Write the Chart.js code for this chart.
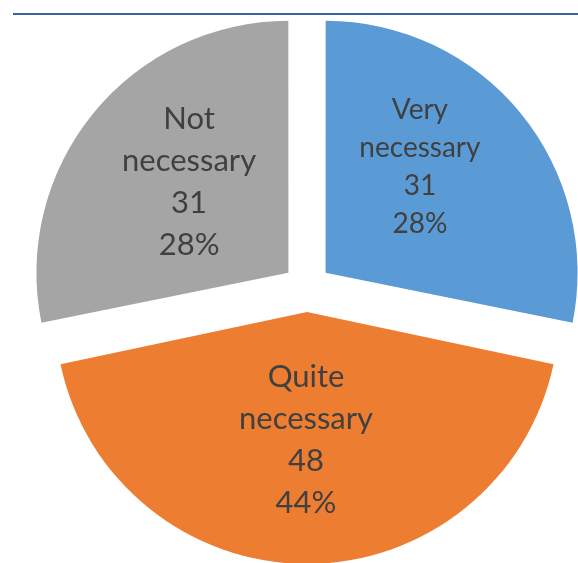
<!DOCTYPE html>
<html>
<head>
<meta charset="utf-8">
<script src="https://cdn.jsdelivr.net/npm/chart.js@4.4.1/dist/chart.umd.min.js"></script>
<style>
    body { margin: 0; background: #fff; }
    #wrap { position: relative; width: 578px; height: 563px; overflow: hidden; }
    #topRule { position: absolute; left: 13px; right: 0; top: 13px; height: 2px; background: #3763a8; }
</style>
</head>
<body>
<div id="wrap">
    <canvas id="pie" width="578" height="563"></canvas>
    <div id="topRule"></div>
</div>
<script>
// Survey answers
const categories = ['Very necessary', 'Quite necessary', 'Not necessary'];
const counts = [31, 48, 31];
const sliceColors = ['#5b9bd5', '#ed7d31', '#a5a5a5'];

const PIE_RADIUS = 252;
const SLICE_OFFSET = 96; // chart.js moves a slice by offset / 4

// label tweaks, per slice: [dx, dy, fontSize, lineHeight]
const labelStyle = [
    [-10, -21, 28, 38],
    [-1, -7, 31, 42],
    [5, -6, 31, 42]
];

// keep every slice at the same radius (chart.js grows wide slices when offset)
const evenRadius = {
    id: 'evenRadius',
    beforeDatasetsDraw(chart) {
        const arcs = chart.getDatasetMeta(0).data;
        arcs.forEach(arc => {
            const fix = 1 - Math.sin(Math.min(Math.PI, arc.circumference));
            arc.outerRadius = PIE_RADIUS - (SLICE_OFFSET / 4) * fix;
        });
    }
};

const sliceLabels = {
    id: 'sliceLabels',
    afterDatasetsDraw(chart) {
        const ctx = chart.ctx;
        const arcs = chart.getDatasetMeta(0).data;
        const total = counts.reduce((a, b) => a + b, 0);

        arcs.forEach((arc, i) => {
            const half = (arc.startAngle + arc.endAngle) / 2;
            const [dx, dy, size, lh] = labelStyle[i];
            const cx = arc.x + Math.cos(half) * PIE_RADIUS * 0.63 + dx;
            const cy = arc.y + Math.sin(half) * PIE_RADIUS * 0.63 + dy;

            const lines = categories[i].split(' ');
            lines.push(String(counts[i]));
            lines.push(Math.round(counts[i] / total * 100) + '%');

            ctx.save();
            ctx.font = `${size}px Lato, "Noto Sans", sans-serif`;
            ctx.fillStyle = '#404040';
            ctx.textAlign = 'center';
            ctx.textBaseline = 'middle';
            const top = cy - (lines.length - 1) * lh / 2;
            lines.forEach((t, k) => ctx.fillText(t, cx, top + k * lh));
            ctx.restore();
        });
    }
};

new Chart(document.getElementById('pie'), {
    type: 'pie',
    data: {
        labels: categories,
        datasets: [{
            data: counts,
            backgroundColor: sliceColors,
            borderWidth: 0,
            offset: SLICE_OFFSET,
            hoverOffset: 0
        }]
    },
    options: {
        responsive: false,
        animation: false,
        radius: PIE_RADIUS,
        layout: { padding: { left: 36, top: 13, right: 0, bottom: 0 } },
        plugins: {
            legend: { display: false },
            tooltip: { enabled: false }
        },
        events: []
    },
    plugins: [evenRadius, sliceLabels]
});
</script>
</body>
</html>
